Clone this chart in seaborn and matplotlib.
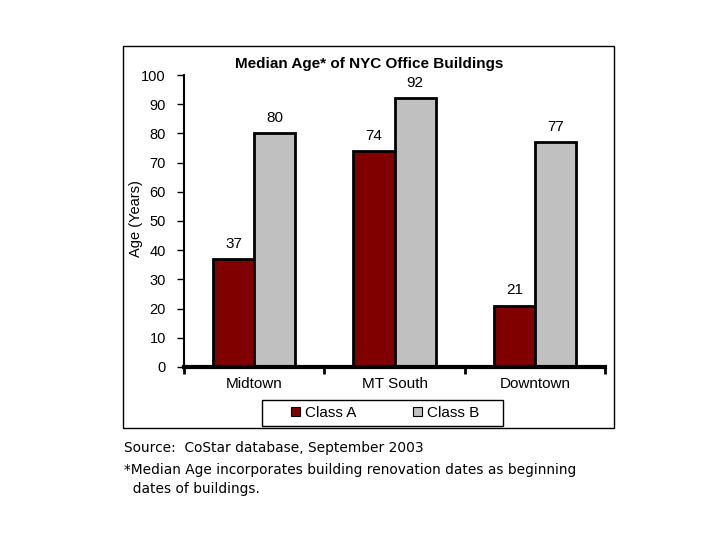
import matplotlib
matplotlib.use("Agg")
import matplotlib.pyplot as plt
import matplotlib.patches as mpatches
import seaborn as sns
import pandas as pd

categories = ["Midtown", "MT South", "Downtown"]
class_a = [37, 74, 21]
class_b = [80, 92, 77]
series = ["Class A", "Class B"]
colors = ["#800000", "#C0C0C0"]
yticks = [0, 10, 20, 30, 40, 50, 60, 70, 80, 90, 100]

df = pd.DataFrame({
    "Area": categories * 2,
    "Class": [series[0]] * 3 + [series[1]] * 3,
    "Age": class_a + class_b,
})

sns.set_theme(style="white")
plt.rcParams["font.family"] = ["Liberation Sans", "DejaVu Sans"]
plt.rcParams["text.color"] = "black"
plt.rcParams["axes.labelcolor"] = "black"
plt.rcParams["xtick.color"] = "black"
plt.rcParams["ytick.color"] = "black"

fig = plt.figure(figsize=(7.2, 5.4), dpi=100)
ax = fig.add_axes([0.2556, 0.3204, 0.5847, 0.5407])

sns.barplot(data=df, x="Area", y="Age", hue="Class", order=categories,
            hue_order=series, palette=colors, width=0.585, ax=ax,
            edgecolor="black", linewidth=2, legend=False, saturation=1)

for cont in ax.containers:
    ax.bar_label(cont, padding=6, fontsize=11, color="black")

ax.set_xlim(-0.5, 2.5)
ax.set_ylim(0, 100)
ax.set_yticks(yticks)
ax.set_yticklabels([str(v) for v in yticks], fontsize=10.5)
ax.set_xticks(range(len(categories)))
ax.set_xticklabels(categories, fontsize=11)
ax.set_xticks([-0.5, 0.5, 1.5, 2.5], minor=True)
ax.tick_params(axis="x", which="major", length=0, pad=7)
ax.tick_params(axis="x", which="minor", length=5, width=2, direction="out", color="black", bottom=True)
ax.tick_params(axis="y", which="major", length=5, width=1, direction="out", color="black", left=True, pad=8)
ax.set_xlabel("")
ax.set_ylabel("Age (Years)", fontsize=10.5)
ax.yaxis.set_label_coords(-0.097, 0.51)
ax.set_title("Median Age* of NYC Office Buildings", fontsize=11, fontweight="bold",
             x=0.44, pad=5, color="black")
for s in ["top", "right"]:
    ax.spines[s].set_visible(False)
ax.spines["left"].set_color("black")
ax.spines["left"].set_linewidth(1.5)
ax.spines["bottom"].set_color("black")
ax.spines["bottom"].set_linewidth(3)
ax.grid(False)

frame = mpatches.Rectangle((0.1708, 0.2074), 0.682, 0.7074, transform=fig.transFigure,
                           fill=False, edgecolor="black", linewidth=1, zorder=0)
fig.patches.append(frame)

leg_frame = mpatches.Rectangle((262 / 720, 1 - 426 / 540), 241 / 720, 26 / 540,
                               transform=fig.transFigure, fill=False,
                               edgecolor="black", linewidth=1, zorder=1)
fig.patches.append(leg_frame)

handles = [mpatches.Patch(facecolor=c, edgecolor="black", linewidth=0.8) for c in colors]
leg = fig.legend(handles, series, loc="center",
                 bbox_to_anchor=(385 / 720, 1 - 413 / 540), ncol=2,
                 fontsize=11, frameon=False,
                 handlelength=0.6, handleheight=0.6, handletextpad=0.3,
                 columnspacing=3.7, borderpad=0.2, borderaxespad=0)

foot_kw = dict(fontsize=9.9, family=["DejaVu Sans"], va="center", color="black")
fig.text(0.172, 0.170, "Source:  CoStar database, September 2003", **foot_kw)
fig.text(0.172, 0.130, "*Median Age incorporates building renovation dates as beginning", **foot_kw)
fig.text(0.172, 0.094, "  dates of buildings.", **foot_kw)

fig.savefig("out.png", dpi=100, facecolor="white")
